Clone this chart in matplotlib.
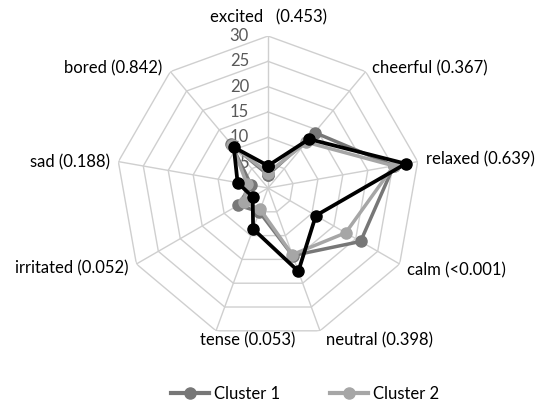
import numpy as np
import matplotlib
matplotlib.use("Agg")
import matplotlib.pyplot as plt
from matplotlib.lines import Line2D

plt.rcParams['font.family'] = ['Lato', 'DejaVu Sans']

# categories (clockwise from the top) and their p-values
categories = ['excited', 'cheerful', 'relaxed', 'calm', 'neutral',
              'tense', 'irritated', 'sad', 'bored']
p_labels = ['excited   (0.453)', 'cheerful (0.367)', 'relaxed (0.639)',
            'calm (<0.001)', 'neutral (0.398)', 'tense (0.053)',
            'irritated (0.052)', 'sad (0.188)', 'bored (0.842)']

# values
cluster1 = [2.6, 14.3, 25.2, 21.1, 14.2, 5.0, 6.8, 3.4, 11.3]
cluster2 = [3.0, 11.8, 25.2, 17.7, 14.0, 4.5, 5.5, 4.2, 11.0]
cluster3 = [4.4, 12.6, 27.6, 10.9, 17.5, 8.6, 3.5, 6.1, 10.5]

ticks = [5, 10, 15, 20, 25, 30]
rmax = 30

n = len(categories)
theta = np.arange(n) * 2 * np.pi / n
theta_c = np.append(theta, theta[0])

fig = plt.figure(figsize=(5.42, 4.05), dpi=100)
ax = fig.add_axes([0.2141, 0.1605, 0.5608, 0.7506], projection='polar')
ax.set_theta_zero_location('N')
ax.set_theta_direction(-1)
ax.set_ylim(0, rmax)
ax.grid(False)
ax.set_xticks([])
ax.set_yticks([])
ax.spines['polar'].set_visible(False)
ax.patch.set_visible(False)

# nonagon grid
grid_col = '#cfcfcf'
for t in ticks:
    ax.plot(theta_c, [t] * (n + 1), color=grid_col, lw=1, zorder=1)
for th in theta:
    ax.plot([th, th], [0, rmax], color=grid_col, lw=1, zorder=1)

# radial tick labels
for t in ticks:
    ax.annotate(str(t), xy=(0, t), xytext=(-19, 0), textcoords='offset pixels',
                ha='right', va='center', fontsize=12, color='#595959')

# category labels
offsets = [(0, 19, 'center'), (6, 3, 'left'), (8, 2, 'left'), (7, -6, 'left'),
           (6, -10, 'left'), (-16, -10, 'left'), (-8, -4, 'right'),
           (-8, -1, 'right'), (-8, 3, 'right')]
for th, lab, (dx, dy, ha) in zip(theta, p_labels, offsets):
    ax.annotate(lab, xy=(th, rmax), xytext=(dx, dy), textcoords='offset pixels',
                ha=ha, va='center', fontsize=12, color='black',
                annotation_clip=False)

# series
series = [(cluster1, '#777777', 2.5, 'Cluster 1'),
          (cluster2, '#a6a6a6', 2.5, 'Cluster 2'),
          (cluster3, '#000000', 2.7, 'Cluster 3')]
for vals, col, lw, name in series:
    v = np.append(vals, vals[0])
    ax.plot(theta_c, v, color=col, lw=lw, marker='o', markersize=8,
            zorder=3, clip_on=False)

handles = [Line2D([0], [0], color=s[1], lw=3, marker='o', markersize=8)
           for s in series[:2]]
fig.legend(handles, [s[3] for s in series[:2]], loc='center',
           bbox_to_anchor=(0.563, 0.027), ncol=2, frameon=False, fontsize=12,
           handlelength=2.3, columnspacing=3.0, handletextpad=0.3)

fig.savefig('out.png', dpi=100)
